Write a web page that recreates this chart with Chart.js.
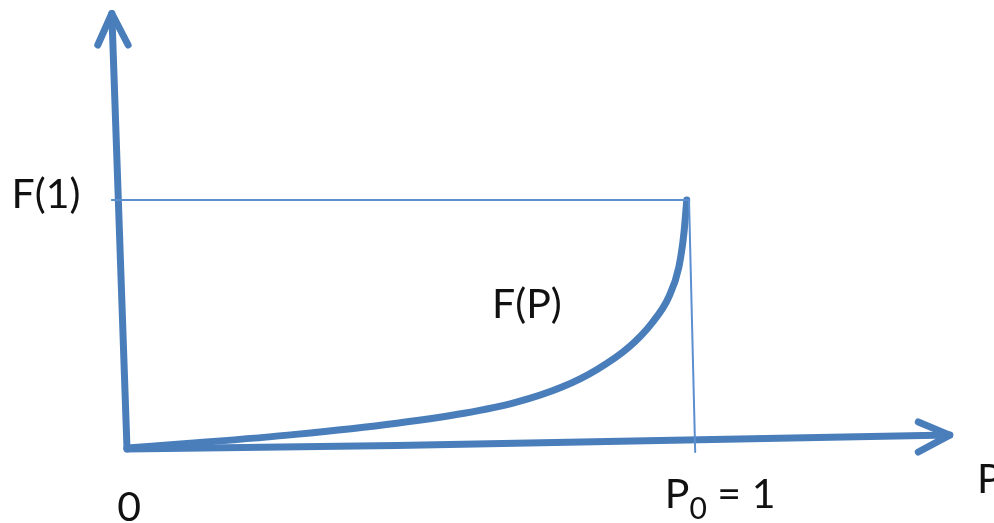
<!DOCTYPE html>
<html lang="en">
<head>
  <meta charset="UTF-8" />
  <title>F(P)</title>
  <script src="https://cdn.jsdelivr.net/npm/chart.js"></script>
  <style>
    body { margin: 0; background: #fff; }
    #chart { display: block; }
  </style>
</head>
<body>
  <canvas id="chart" width="994" height="523"></canvas>

  <script>
    // curve F(P) (P from 0 to P0 = 1, F scaled so F(1) = 1)
    const curveP = [0, 0.13, 0.30, 0.48, 0.60, 0.69, 0.774, 0.835, 0.893, 0.934, 0.964, 0.982, 0.991, 0.996];
    const curveF = [0, 0.022, 0.055, 0.100, 0.140, 0.183, 0.246, 0.315, 0.407, 0.504, 0.609, 0.730, 0.867, 1.0];

    // hand drawn axes (data units)
    const yAxisLine = [[0, -0.004], [-0.027, 1.752]];
    const yAxisHead = [[-0.052, 1.625], [-0.027, 1.752], [0.002, 1.625]];
    const xAxisLine = [[0, -0.004], [0.48, 0.010], [1.464, 0.052]];
    const xAxisHead = [[1.408, 0.105], [1.464, 0.052], [1.408, -0.016]];

    // guide lines to F(1) and P0 = 1
    const levelLine = [[-0.027, 1], [0.998, 1]];
    const dropLine = [[1.0, 1], [1.011, -0.016]];

    const blue = '#4a7ebb';
    const toPts = arr => arr.map(p => ({ x: p[0], y: p[1] }));

    function seg(points, width, color) {
      return {
        data: toPts(points),
        showLine: true,
        borderColor: color || blue,
        borderWidth: width,
        pointRadius: 0,
        borderCapStyle: 'round',
        borderJoinStyle: 'round',
        fill: false
      };
    }

    const labelFont = '41px Lato, "Open Sans", sans-serif';

    // text labels placed in data units
    const textPlugin = {
      id: 'texts',
      afterDatasetsDraw(chart) {
        const ctx = chart.ctx;
        const xs = chart.scales.x, ys = chart.scales.y;
        ctx.save();
        ctx.fillStyle = '#111';
        ctx.textBaseline = 'alphabetic';
        ctx.font = labelFont;

        ctx.textAlign = 'right';
        ctx.fillText('F(1)', xs.getPixelForValue(-0.083), ys.getPixelForValue(0.968));

        ctx.textAlign = 'left';
        ctx.fillText('F(P)', xs.getPixelForValue(0.6495), ys.getPixelForValue(0.524));

        ctx.textAlign = 'center';
        ctx.fillText('0', xs.getPixelForValue(0.004), ys.getPixelForValue(-0.294));

        // P0 = 1
        ctx.textAlign = 'left';
        let px = xs.getPixelForValue(0.957);
        const py = ys.getPixelForValue(-0.242);
        ctx.fillText('P', px, py);
        px += ctx.measureText('P').width;
        ctx.font = '30px Lato, "Open Sans", sans-serif';
        ctx.fillText('0', px, py + 11);
        px += ctx.measureText('0').width;
        ctx.font = labelFont;
        ctx.fillText(' = 1', px, py);

        ctx.fillText('P', xs.getPixelForValue(1.5125), ys.getPixelForValue(-0.181));
        ctx.restore();
      }
    };

    const curve = curveP.map((p, i) => ({ x: p, y: curveF[i] }));

    new Chart(document.getElementById('chart'), {
      type: 'scatter',
      data: {
        datasets: [
          seg(levelLine, 2, '#5b8fd0'),
          seg(dropLine, 2, '#5b8fd0'),
          seg(xAxisLine, 7),
          seg(xAxisHead, 7),
          seg(yAxisLine, 7),
          seg(yAxisHead, 7),
          {
            data: curve,
            showLine: true,
            borderColor: blue,
            borderWidth: 7,
            pointRadius: 0,
            cubicInterpolationMode: 'monotone',
            borderCapStyle: 'round',
            fill: false
          }
        ]
      },
      options: {
        responsive: false,
        animation: false,
        layout: { padding: 0 },
        plugins: {
          legend: { display: false },
          tooltip: { enabled: false }
        },
        scales: {
          x: { type: 'linear', display: false, min: -0.226, max: 1.5427 },
          y: { type: 'linear', display: false, min: -0.3024, max: 1.8065 }
        }
      },
      plugins: [textPlugin]
    });
  </script>
</body>
</html>
